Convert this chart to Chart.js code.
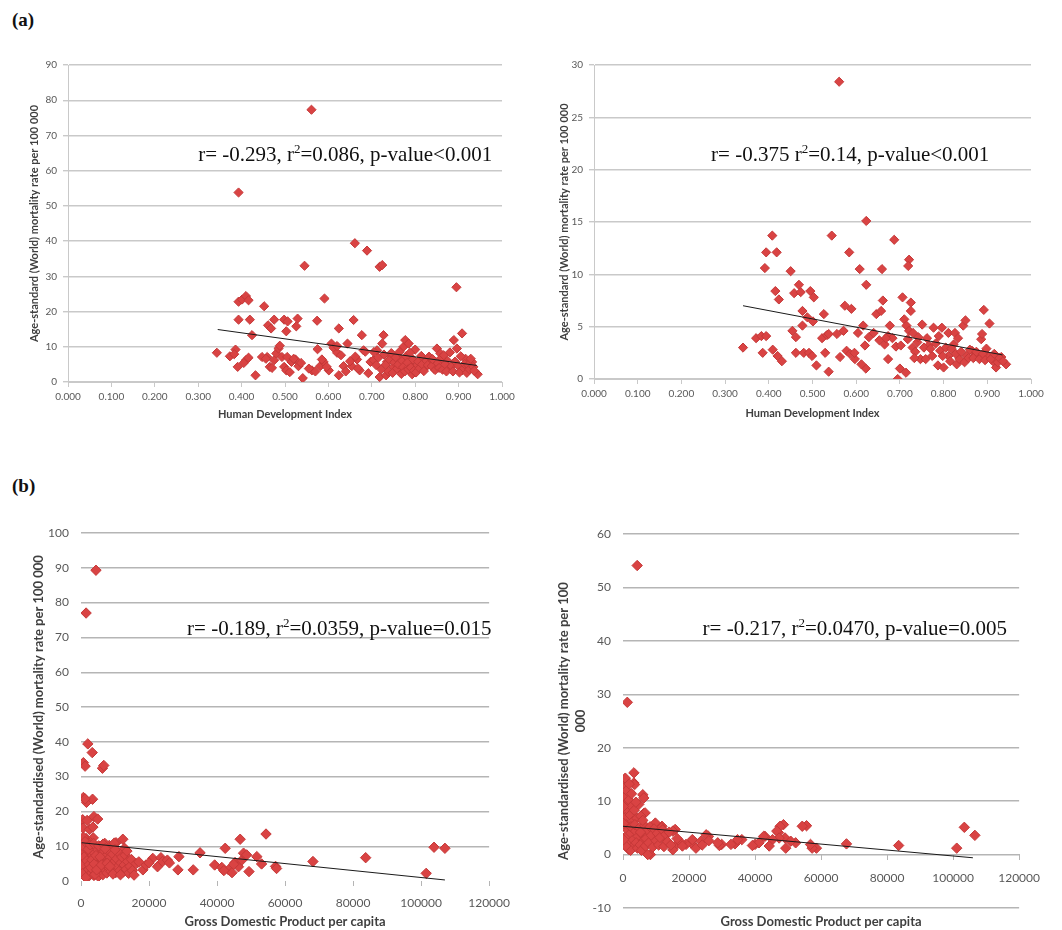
<!DOCTYPE html>
<html>
<head>
<meta charset="utf-8">
<script src="https://cdn.jsdelivr.net/npm/chart.js@4.4.1/dist/chart.umd.min.js"></script>
<style>
  body { margin: 0; background: #fff; width: 1062px; height: 930px; position: relative; overflow: hidden; }
  canvas { position: absolute; }
  .panel { position: absolute; font: bold 19px "Liberation Serif", serif; line-height: 1; color: #111; }
</style>
</head>
<body>
<div class="panel" style="left:12px;top:10px">(a)</div>
<div class="panel" style="left:12px;top:476px">(b)</div>
<canvas id="c1" width="520" height="400" style="left:0;top:40px"></canvas>
<canvas id="c2" width="520" height="400" style="left:531px;top:40px"></canvas>
<canvas id="c3" width="520" height="430" style="left:0;top:500px"></canvas>
<canvas id="c4" width="520" height="430" style="left:531px;top:500px"></canvas>
<script>
// (a) left: HDI vs mortality
const hdiMen = [
  [0.343,8.3],[0.373,7.3],[0.386,9.2],[0.391,4.3],[0.393,17.7],[0.393,22.8],[0.401,23.4],[0.410,24.4],[0.416,23.2],[0.419,17.7],
  [0.410,6.2],[0.416,6.9],[0.424,13.3],[0.432,1.9],[0.393,53.8],[0.452,21.5],[0.461,16.1],[0.468,15.2],[0.459,7.1],[0.465,4.3],
  [0.475,17.7],[0.475,6.2],[0.480,8.1],[0.485,9.5],[0.488,10.3],[0.493,7.1],[0.498,17.7],[0.503,14.4],[0.498,4.3],[0.503,3.3],
  [0.511,2.8],[0.505,7.1],[0.506,17.2],[0.529,18.0],[0.526,15.8],[0.524,6.4],[0.531,4.5],[0.537,5.4],[0.541,1.1],[0.545,33.0],
  [0.561,77.3],[0.562,3.3],[0.570,3.0],[0.574,17.4],[0.575,9.3],[0.581,4.5],[0.589,5.7],[0.591,23.7],[0.601,3.3],[0.607,10.9],
  [0.612,9.7],[0.620,8.3],[0.624,15.2],[0.624,1.9],[0.629,7.6],[0.644,10.9],[0.654,4.5],[0.658,17.6],[0.661,39.4],[0.666,6.4],
  [0.672,3.3],[0.677,13.3],[0.681,9.0],[0.689,37.3],[0.697,5.7],[0.704,6.2],[0.712,9.0],[0.718,32.7],[0.724,33.2],[0.718,1.4],
  [0.724,10.9],[0.727,13.3],[0.733,1.9],[0.735,5.7],[0.743,7.6],[0.750,4.3],[0.762,7.1],[0.766,3.3],[0.773,10.0],[0.777,11.9],
  [0.785,10.9],[0.787,5.2],[0.793,2.2],[0.800,9.2],[0.804,4.7],[0.818,6.6],[0.824,4.3],[0.835,5.7],[0.843,3.8],[0.850,9.5],
  [0.858,8.1],[0.873,6.2],[0.877,4.3],[0.889,11.9],[0.895,26.9],[0.896,9.5],[0.908,13.8],[0.908,3.3],[0.916,6.6],[0.927,6.0],
  [0.931,5.7],[0.944,2.2],[0.705,8.5],[0.710,4.8],[0.715,6.9],[0.722,3.6],[0.728,7.8],[0.732,4.9],[0.738,3.0],[0.741,6.3],
  [0.745,8.2],[0.748,2.6],[0.752,5.6],[0.755,7.0],[0.758,3.8],[0.761,5.0],[0.764,8.6],[0.768,2.3],[0.770,6.0],[0.772,4.2],
  [0.776,3.0],[0.779,7.3],[0.782,5.5],[0.784,3.6],[0.788,8.3],[0.790,4.1],[0.795,6.4],[0.797,3.2],[0.802,2.7],[0.807,5.8],
  [0.810,3.9],[0.814,7.4],[0.816,5.0],[0.820,3.1],[0.826,6.0],[0.829,4.8],[0.832,7.2],[0.838,4.5],[0.840,6.5],[0.846,3.4],
  [0.852,5.3],[0.855,4.0],[0.860,6.8],[0.863,3.5],[0.866,7.6],[0.869,5.0],[0.872,3.0],[0.880,8.4],[0.884,4.5],[0.887,3.0],
  [0.892,5.8],[0.899,4.6],[0.902,2.7],[0.905,7.3],[0.912,3.9],[0.914,5.1],[0.919,2.6],[0.922,4.8],[0.925,3.6],[0.928,6.6],
  [0.934,4.3],[0.936,3.2],[0.383,7.9],[0.405,5.4],[0.447,7.1],[0.456,6.6],[0.470,4.0],[0.515,5.7],[0.520,6.6],[0.555,3.8],
  [0.585,6.4],[0.596,4.3],[0.620,10.2],[0.635,4.5],[0.640,3.0],[0.650,5.9],[0.662,7.2],[0.668,3.9],[0.685,8.6],[0.692,2.5]
];
const hdiMenTrend = [[0.345,14.9],[0.942,4.7]];

// (a) right
const hdiWomen = [
  [0.341,3.0],[0.371,3.9],[0.383,4.1],[0.394,4.1],[0.391,10.6],[0.394,12.1],[0.418,12.1],[0.408,13.7],[0.386,2.5],[0.409,2.8],
  [0.420,2.2],[0.430,1.7],[0.415,8.4],[0.423,7.6],[0.450,10.3],[0.454,4.6],[0.462,4.0],[0.462,2.5],[0.469,9.0],[0.458,8.2],
  [0.473,8.3],[0.477,6.5],[0.477,5.1],[0.480,2.5],[0.492,2.5],[0.495,8.4],[0.503,7.8],[0.488,5.9],[0.501,5.5],[0.499,2.2],
  [0.509,1.3],[0.526,6.2],[0.522,3.9],[0.533,4.2],[0.537,4.3],[0.529,2.5],[0.544,13.7],[0.537,0.7],[0.561,28.4],[0.563,2.1],
  [0.571,4.6],[0.574,7.0],[0.589,6.7],[0.584,12.1],[0.578,2.7],[0.586,2.4],[0.597,1.9],[0.604,4.4],[0.608,10.5],[0.616,5.1],
  [0.623,15.1],[0.623,9.0],[0.620,3.2],[0.629,4.0],[0.622,1.0],[0.646,6.2],[0.657,6.5],[0.659,10.5],[0.661,7.5],[0.653,3.7],
  [0.665,3.3],[0.673,4.1],[0.677,5.1],[0.673,1.9],[0.687,13.3],[0.691,3.1],[0.695,0.0],[0.700,1.0],[0.706,7.8],[0.714,0.6],
  [0.710,5.7],[0.721,11.4],[0.719,10.8],[0.725,7.3],[0.725,6.5],[0.715,5.1],[0.721,4.6],[0.730,4.4],[0.729,3.0],[0.740,3.5],
  [0.751,5.2],[0.747,1.9],[0.759,1.9],[0.766,3.2],[0.774,2.2],[0.777,4.9],[0.789,4.1],[0.796,4.9],[0.792,2.7],[0.787,1.3],
  [0.800,1.1],[0.811,4.4],[0.811,2.2],[0.826,4.4],[0.823,3.3],[0.830,1.4],[0.836,1.9],[0.845,5.1],[0.850,5.6],[0.853,2.2],
  [0.865,2.7],[0.871,2.2],[0.879,2.4],[0.886,3.8],[0.888,4.3],[0.892,6.6],[0.905,5.3],[0.902,2.2],[0.913,1.7],[0.920,1.1],
  [0.932,2.1],[0.943,1.4],[0.735,2.6],[0.742,4.0],[0.755,3.0],[0.762,3.9],[0.770,2.9],[0.782,3.4],[0.798,2.2],[0.805,3.0],
  [0.815,1.7],[0.818,2.9],[0.828,2.4],[0.833,3.9],[0.840,2.6],[0.848,1.6],[0.857,2.0],[0.860,2.8],[0.868,2.0],[0.875,2.6],
  [0.882,1.9],[0.890,2.4],[0.895,1.8],[0.898,2.9],[0.908,1.9],[0.916,2.4],[0.924,1.6],[0.928,2.0],[0.936,1.7],[0.718,3.8],
  [0.733,2.0],[0.702,3.2],[0.683,3.9],[0.668,3.9],[0.640,4.4],[0.612,1.4],[0.556,4.3],[0.596,2.5]
];
const hdiWomenTrend = [[0.341,7.0],[0.935,2.3]];

// (b) left: GDP per capita vs mortality
const gdpMen = [
  [4400,89.3],[1500,77.0],[2000,39.4],[3300,36.9],[700,34.0],[1200,33.0],[6300,32.4],[6700,33.2],[700,24.0],[1600,22.6],
  [3400,23.5],[1200,23.6],[500,17.6],[1800,17.4],[3800,18.5],[4900,17.8],[600,15.2],[2500,14.8],[3500,15.5],[1500,12.2],
  [3600,12.4],[2800,11.0],[700,12.6],[8300,10.2],[12300,12.0],[10300,11.0],[7000,10.8],[9800,10.9],
  [300,9.0],[500,7.5],[800,5.2],[900,3.0],[1000,8.4],[1100,1.9],[1300,6.3],[1400,4.2],[1600,9.6],[1700,2.5],
  [1900,7.1],[2000,5.0],[2200,3.4],[2300,1.4],[2500,8.8],[2600,6.0],[2800,4.4],[3000,2.2],[3100,9.9],[3300,7.4],
  [3500,5.5],[3600,3.1],[3800,1.6],[4000,8.0],[4200,6.6],[4300,4.0],[4500,2.6],[4700,9.2],[4800,5.8],[5000,3.6],
  [5100,1.3],[5300,7.6],[5500,4.8],[5700,2.9],[5900,9.5],[6100,6.2],[6200,3.9],[6400,1.8],[6600,8.3],[6800,5.3],
  [7000,3.3],[7200,7.0],[7400,4.5],[7600,2.3],[7900,8.8],[8100,5.9],[8300,3.7],[8600,6.8],[8800,2.8],[9100,4.9],
  [9300,7.7],[9600,3.4],[9900,5.6],[10200,2.4],[10500,6.4],[10800,4.1],[11100,8.1],[11400,3.0],[11700,5.2],[12000,6.9],
  [12400,2.6],[12700,4.6],[13000,7.4],[13300,3.4],[13700,5.6],[14000,2.2],[14400,4.2],[14800,6.2],[15100,3.0],[15600,1.7],
  [16200,5.0],[200,4.5],[400,2.1],[600,10.0],[900,6.9],[1200,11.3],[1400,1.0],[1700,5.8],[2100,9.1],[2400,4.7],
  [2700,10.4],[2900,3.8],[3200,6.1],[3700,10.8],[3900,4.9],[4100,1.9],[4400,7.3],[4600,3.2],[5200,10.1],[5600,6.9],
  [6000,4.6],[6500,10.6],[7100,9.3],[7700,5.1],[8500,4.2],[9400,2.0],[10000,9.0],[11600,1.8],[12800,9.4],[13500,8.6],
  [18200,3.2],[19100,4.6],[21100,6.5],[22500,4.1],[23500,6.7],[24000,5.6],[25400,6.0],[28800,7.0],[28500,3.2],[33000,3.2],
  [35000,8.1],[39300,4.6],[42400,9.4],[41400,3.9],[43400,3.2],[44400,2.4],[45300,5.3],[46300,4.1],[46800,12.0],[47300,6.0],
  [47800,8.0],[48700,7.5],[49400,2.7],[51700,7.0],[53100,4.9],[54400,13.5],[57200,4.2],[57500,3.6],[68200,5.6],[83700,6.7],
  [101500,2.2],[103800,9.7],[107000,9.4],[20000,5.2],[17000,5.5],[26000,5.2],[44900,4.8],[42000,3.0]
];
const gdpMenTrend = [[200,11.0],[107000,0.3]];

// (b) right
const gdpWomen = [
  [4300,54.1],[1300,28.5],[3300,15.3],[500,14.0],[3300,13.4],[6000,11.2],[6300,10.6],[6300,7.7],[700,14.3],[3500,13.1],
  [200,11.8],[6700,7.8],[9800,5.9],[11800,5.3],[15800,4.7],[15800,1.6],[8300,0.0],[25900,3.4],[29900,1.9],[33900,2.0],
  [36000,2.8],[40000,1.9],[43000,3.4],[47100,4.1],[48600,5.6],[49100,3.1],[55600,5.4],[58600,1.2],[103400,5.1],[106600,3.6],
  [101100,1.2],[83500,1.7],[67700,2.0],[57300,1.2],[56800,1.9],[54300,5.3],[52300,2.2],[50800,2.5],[49300,1.2],[47600,5.3],
  [46600,4.4],[47300,3.1],[45300,2.8],[44300,1.6],[42600,3.4],[41200,2.2],[39200,1.7],[34700,2.8],[32700,1.9],[29200,1.7],
  [28700,2.2],[25200,3.7],[23600,2.5],[22100,1.2],[20600,2.2],[19100,1.9],[17600,2.2],[15100,4.4],[15100,0.9],[12600,2.8],
  [11600,5.0],[9600,3.4],[7500,0.0],
  [300,12.5],[600,10.8],[900,9.6],[1100,12.0],[400,8.5],[1500,8.0],[700,6.9],[1800,10.2],[2200,7.4],[1000,5.6],
  [2600,9.0],[1400,4.6],[3000,6.2],[2000,3.8],[3400,8.3],[2400,5.2],[500,3.2],[3800,4.4],[2800,2.6],[1200,2.0],
  [4200,6.8],[3200,1.6],[1700,1.0],[4600,3.4],[3600,5.6],[2300,0.8],[5000,5.0],[4000,2.2],[5400,7.2],[4400,1.2],
  [5800,3.8],[4800,9.4],[6200,2.6],[5200,1.8],[6600,5.4],[5600,0.8],[7000,3.0],[6000,6.4],[7400,4.6],[6800,1.6],
  [7800,2.2],[8200,5.2],[8600,3.6],[9000,1.4],[9400,4.8],[10000,2.6],[10400,4.0],[10800,1.8],[11200,3.2],[12000,4.6],
  [12400,1.5],[13000,3.8],[13500,2.4],[14000,4.2],[14500,1.8],[16400,3.0],[18000,1.6],[21000,2.8],[24000,1.8],[26000,2.6],
  [2600,11.4],[1900,13.2],[800,1.6],[3900,9.8],[5300,4.2],[200,5.8],[200,2.8],[100,9.0]
];
const gdpWomenTrend = [[0,5.3],[106000,-0.6]];

const RED = '#D94343';
const RED_EDGE = '#C53838';
const TICK = '#595959';
const TITLE = '#3f3f3f';

// r / r2 / p-value text, drawn at a data position (left end, baseline)
const statText = {
  id: 'statText',
  afterDatasetsDraw(chart, args, o) {
    if (!o.parts) return;
    const ctx = chart.ctx;
    let px = chart.scales.x.getPixelForValue(o.x);
    const py = chart.scales.y.getPixelForValue(o.y);
    ctx.save();
    ctx.fillStyle = '#111';
    ctx.textBaseline = 'alphabetic';
    o.parts.forEach(part => {
      const sup = part.startsWith('^');
      const txt = sup ? part.slice(1) : part;
      ctx.font = sup ? '13px "Liberation Serif"' : '21px "Liberation Serif"';
      ctx.fillText(txt, px, sup ? py - 8 : py);
      px += ctx.measureText(txt).width;
    });
    ctx.restore();
  }
};

function makeChart(id, c) {
  const x = c.x, y = c.y;
  return new Chart(document.getElementById(id), {
    type: 'scatter',
    data: {
      datasets: [
        { data: c.trend.map(p => ({ x: p[0], y: p[1] })), showLine: true, borderColor: '#1a1a1a', borderWidth: 1, pointRadius: 0, order: 0 },
        { data: c.points.map(p => ({ x: p[0], y: p[1] })), pointStyle: 'rectRot', pointRadius: c.radius, backgroundColor: RED, borderColor: RED_EDGE, borderWidth: 1, order: 1 }
      ]
    },
    options: {
      responsive: false,
      animation: false,
      devicePixelRatio: 1,
      layout: { padding: c.padding },
      plugins: { legend: { display: false }, tooltip: { enabled: false }, statText: c.stat },
      scales: {
        x: {
          type: 'linear', position: x.position || 'bottom', min: x.min, max: x.max,
          ticks: { stepSize: x.step, autoSkip: false, maxRotation: 0, color: TICK, font: { family: 'Lato', size: x.font }, padding: x.pad, callback: x.fmt },
          grid: { drawOnChartArea: false, drawTicks: true, tickLength: 5, color: c.grid },
          border: { display: x.axisLine, color: c.grid },
          title: { display: true, text: x.title, color: TITLE, font: { family: 'Lato', size: x.titleSize, weight: 'bold' }, padding: { top: 4, bottom: x.titleBottom } },
          afterFit: s => { s.height = x.height; }
        },
        y: {
          type: 'linear', min: y.min, max: y.max,
          ticks: { stepSize: y.step, autoSkip: false, color: TICK, font: { family: 'Lato', size: y.font }, padding: y.pad },
          grid: {
            color: ctx => (c.hideZero && ctx.tick && ctx.tick.value === 0) ? 'rgba(0,0,0,0)' : c.grid,
            lineWidth: 1.4, drawTicks: y.axisLine, tickLength: 5
          },
          border: { display: y.axisLine, color: c.grid },
          title: { display: true, text: y.title, color: TITLE, font: { family: 'Lato', size: y.titleSize, weight: 'bold', lineHeight: 1.3 }, padding: { top: 4, bottom: 4 } },
          afterFit: s => { s.width = y.width; }
        }
      }
    },
    plugins: [statText]
  });
}

const hdiFmt = v => v.toFixed(3);
const gdpFmt = v => String(Math.round(v));

makeChart('c1', {
  points: hdiMen, trend: hdiMenTrend, radius: 4.6, grid: '#c9c9c9',
  stat: { parts: ['r= -0.293, r', '^2', '=0.086, p-value<0.001'], x: 0.300, y: 62.7 },
  padding: { left: 23, top: 25, right: 18, bottom: 15 },
  x: { min: 0, max: 1, step: 0.1, fmt: hdiFmt, font: 10, pad: 4, title: 'Human Development Index', titleSize: 11, titleBottom: 4, height: 43, axisLine: true },
  y: { min: 0, max: 90, step: 10, font: 10, pad: 6, title: 'Age-standard (World) mortality rate per 100 000', titleSize: 11, width: 45, axisLine: true }
});

makeChart('c2', {
  points: hdiWomen, trend: hdiWomenTrend, radius: 4.6, grid: '#c9c9c9',
  stat: { parts: ['r= -0.375 r', '^2', '=0.14, p-value<0.001'], x: 0.268, y: 20.8 },
  padding: { left: 22, top: 25, right: 20, bottom: 16 },
  x: { min: 0, max: 1, step: 0.1, fmt: hdiFmt, font: 10, pad: 4, title: 'Human Development Index', titleSize: 11, titleBottom: 4, height: 45, axisLine: true },
  y: { min: 0, max: 30, step: 5, font: 10, pad: 6, title: 'Age-standard (World) mortality rate per 100 000', titleSize: 11, width: 41, axisLine: true }
});

makeChart('c3', {
  points: gdpMen, trend: gdpMenTrend, radius: 5.2, grid: '#b5b5b5', hideZero: true,
  stat: { parts: ['r= -0.189, r', '^2', '=0.0359, p-value=0.015'], x: 31200, y: 70.7 },
  padding: { left: 26, top: 33, right: 27, bottom: 0 },
  x: { min: 0, max: 120000, step: 20000, fmt: gdpFmt, font: 12, pad: 10, title: 'Gross Domestic Product per capita', titleSize: 13, titleBottom: 0, height: 49, axisLine: false },
  y: { min: 0, max: 100, step: 10, font: 12, pad: 12, title: 'Age-standardised (World) mortality rate per 100 000', titleSize: 13, width: 55, axisLine: false }
});

makeChart('c4', {
  points: gdpWomen, trend: gdpWomenTrend, radius: 5.2, grid: '#b5b5b5',
  stat: { parts: ['r= -0.217, r', '^2', '=0.0470, p-value=0.005'], x: 24100, y: 41.1 },
  padding: { left: 20, top: 34, right: 31, bottom: 22 },
  x: { position: { y: 0 }, min: 0, max: 120000, step: 20000, fmt: gdpFmt, font: 12, pad: 11, title: 'Gross Domestic Product per capita', titleSize: 13, titleBottom: 4, height: 79, axisLine: true },
  y: { min: -10, max: 60, step: 10, font: 12, pad: 12, title: ['Age-standardised (World) mortality rate per 100', '000'], titleSize: 13, width: 72, axisLine: false }
});
</script>
</body>
</html>
